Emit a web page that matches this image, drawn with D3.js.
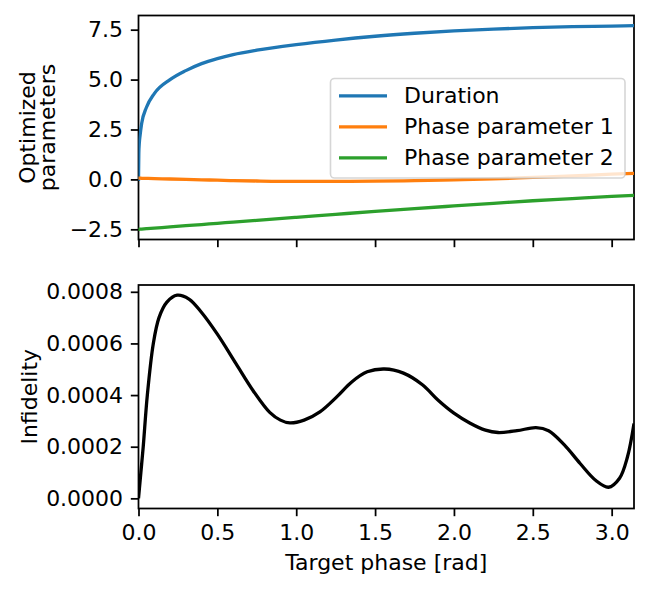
<!DOCTYPE html>
<html>
<head>
<meta charset="utf-8">
<script src="https://cdn.jsdelivr.net/npm/d3@7"></script>
<style>
  body { margin: 0; background: #fff; }
  svg { display: block; font-family: "DejaVu Sans", sans-serif; }
  .tick text { font-size: 22px; fill: #000; }
</style>
</head>
<body>
<div id="grafica"></div>
<script>
// valores
var fase = [0, 0.002, 0.005, 0.01, 0.02, 0.05, 0.1, 0.2, 0.3, 0.4, 0.5, 0.6, 0.75, 1.0, 1.25, 1.5, 1.75, 2.0, 2.25, 2.5, 2.75, 3.0, 3.1416];
var duracion = [0, 1.3, 1.8, 2.2, 2.8, 3.6, 4.3, 5.0, 5.45, 5.8, 6.05, 6.25, 6.47, 6.75, 6.98, 7.17, 7.32, 7.44, 7.53, 7.6, 7.65, 7.68, 7.7];
var faseParam1 = [0.06, 0.06, 0.06, 0.06, 0.055, 0.05, 0.04, 0.02, 0.0, -0.02, -0.04, -0.06, -0.08, -0.1, -0.1, -0.09, -0.06, -0.02, 0.03, 0.1, 0.17, 0.26, 0.3];
var faseParam2 = [-2.5, -2.499, -2.497, -2.494, -2.488, -2.47, -2.44, -2.38, -2.32, -2.26, -2.2, -2.14, -2.05, -1.9, -1.75, -1.6, -1.46, -1.33, -1.2, -1.07, -0.96, -0.85, -0.8];

var faseInf = [0, 0.015, 0.03, 0.056, 0.094, 0.13, 0.18, 0.245, 0.32, 0.4, 0.5, 0.62, 0.727, 0.832, 0.9, 0.96, 1.05, 1.15, 1.26, 1.35, 1.45, 1.56, 1.68, 1.8, 1.9, 2.0, 2.1, 2.2, 2.28, 2.4, 2.52, 2.6, 2.7, 2.8, 2.9, 2.98, 3.05, 3.1, 3.1416];
var infidelidad = [0, 0.0001, 0.0002, 0.0004, 0.0006, 0.0007, 0.00076, 0.000787, 0.000772, 0.00072, 0.000636, 0.00052, 0.000417, 0.000333, 0.000303, 0.000292, 0.000303, 0.000335, 0.000395, 0.00045, 0.00049, 0.000501, 0.000485, 0.00044, 0.00038, 0.00033, 0.000292, 0.000264, 0.000255, 0.000262, 0.000274, 0.000262, 0.000207, 0.000135, 0.000069, 0.000043, 0.000078, 0.00016, 0.00029];

var series = ["Duration", "Phase parameter 1", "Phase parameter 2"];
var colores = ["#1f77b4", "#ff7f0e", "#2ca02c"];
var ticksX = [0, 0.5, 1.0, 1.5, 2.0, 2.5, 3.0];
var ticksArriba = [-2.5, 0, 2.5, 5, 7.5];
var ticksAbajo = [0, 0.0002, 0.0004, 0.0006, 0.0008];

var ancho = 650, alto = 589;
var izq = 138.5, der = 634;
var arriba1 = 15.5, abajo1 = 239.5;
var arriba2 = 285, abajo2 = 508.5;
var tickLen = 7.7, tickPad = 7.7;

var svg = d3.select("#grafica").append("svg")
    .attr("width", ancho)
    .attr("height", alto);

var x = d3.scaleLinear().domain([0, Math.PI]).range([izq, der]);

// margen del 5% como matplotlib
function dominio(valores) {
    var min = d3.min(valores), max = d3.max(valores);
    var m = (max - min) * 0.05;
    return [min - m, max + m];
}

var yArriba = d3.scaleLinear()
    .domain(dominio(duracion.concat(faseParam1, faseParam2)))
    .range([abajo1, arriba1]);
var yAbajo = d3.scaleLinear()
    .domain(dominio(infidelidad))
    .range([abajo2, arriba2]);

var defs = svg.append("defs");
defs.append("clipPath").attr("id", "clip1").append("rect")
    .attr("x", izq).attr("y", arriba1).attr("width", der - izq).attr("height", abajo1 - arriba1);
defs.append("clipPath").attr("id", "clip2").append("rect")
    .attr("x", izq).attr("y", arriba2).attr("width", der - izq).attr("height", abajo2 - arriba2);

function ejes(y, arriba, abajo, ticksY, formatoY, conEtiquetas) {
    var ejeX = d3.axisBottom(x)
        .tickValues(ticksX)
        .tickSize(tickLen).tickSizeOuter(0).tickPadding(tickPad)
        .tickFormat(conEtiquetas ? d3.format(".1f") : "");
    var gx = svg.append("g")
        .attr("transform", "translate(0," + abajo + ")")
        .call(ejeX);
    var ejeY = d3.axisLeft(y)
        .tickValues(ticksY)
        .tickSize(tickLen).tickSizeOuter(0).tickPadding(tickPad)
        .tickFormat(formatoY);
    var gy = svg.append("g")
        .attr("transform", "translate(" + izq + ",0)")
        .call(ejeY);
    [gx, gy].forEach(function (g) {
        g.select(".domain").remove();
        g.selectAll(".tick line").attr("stroke", "#000").attr("stroke-width", 1.76);
        g.attr("font-family", null).attr("font-size", null);
    });
    svg.append("rect")
        .attr("x", izq).attr("y", arriba)
        .attr("width", der - izq).attr("height", abajo - arriba)
        .attr("fill", "none")
        .attr("stroke", "#000")
        .attr("stroke-width", 1.76);
}

var formatoArriba = function (d) { return d3.format(".1f")(d).replace("-", "\u2212"); };
ejes(yArriba, arriba1, abajo1, ticksArriba, formatoArriba, false);
ejes(yAbajo, arriba2, abajo2, ticksAbajo, d3.format(".4f"), true);

// lineas del panel de arriba
var datosArriba = [duracion, faseParam1, faseParam2];
var linea = d3.line()
    .x(function (d, i) { return x(fase[i]); })
    .y(function (d) { return yArriba(d); })
    .curve(d3.curveMonotoneX);

svg.append("g").attr("clip-path", "url(#clip1)")
    .selectAll("path")
    .data(datosArriba)
    .enter().append("path")
    .attr("d", linea)
    .attr("fill", "none")
    .attr("stroke", function (d, i) { return colores[i]; })
    .attr("stroke-width", 3.3)
    .attr("stroke-linejoin", "round")
    .attr("stroke-linecap", "square");

// panel de abajo
var lineaInf = d3.line()
    .x(function (d, i) { return x(faseInf[i]); })
    .y(function (d) { return yAbajo(d); })
    .curve(d3.curveCatmullRom.alpha(0.5));

svg.append("g").attr("clip-path", "url(#clip2)")
    .append("path")
    .datum(infidelidad)
    .attr("d", lineaInf)
    .attr("fill", "none")
    .attr("stroke", "#000")
    .attr("stroke-width", 3.3)
    .attr("stroke-linejoin", "round");

// leyenda
var leyenda = svg.append("g");
leyenda.append("rect")
    .attr("x", 330.5).attr("y", 78.5)
    .attr("width", 294.5).attr("height", 99.5)
    .attr("rx", 4).attr("ry", 4)
    .attr("fill", "#fff").attr("fill-opacity", 0.8)
    .attr("stroke", "#cccccc").attr("stroke-opacity", 0.8)
    .attr("stroke-width", 1.6);

var filas = leyenda.selectAll("g.fila")
    .data(series)
    .enter().append("g")
    .attr("class", "fila")
    .attr("transform", function (d, i) { return "translate(0," + (95.8 + i * 31) + ")"; });
filas.append("line")
    .attr("x1", 339).attr("x2", 387)
    .attr("stroke", function (d, i) { return colores[i]; })
    .attr("stroke-width", 3.3);
filas.append("text")
    .attr("x", 404)
    .attr("y", 7.5)
    .attr("font-size", 22)
    .text(function (d) { return d; });

// titulos de ejes
svg.append("text")
    .attr("transform", "rotate(-90)")
    .attr("x", -(arriba1 + abajo1) / 2)
    .attr("y", 34.5)
    .attr("text-anchor", "middle")
    .attr("font-size", 22)
    .text("Optimized");
svg.append("text")
    .attr("transform", "rotate(-90)")
    .attr("x", -(arriba1 + abajo1) / 2)
    .attr("y", 55)
    .attr("text-anchor", "middle")
    .attr("font-size", 22)
    .text("parameters");
svg.append("text")
    .attr("transform", "rotate(-90)")
    .attr("x", -(arriba2 + abajo2) / 2)
    .attr("y", 36.5)
    .attr("text-anchor", "middle")
    .attr("font-size", 22)
    .text("Infidelity");
svg.append("text")
    .attr("x", (izq + der) / 2)
    .attr("y", 569.5)
    .attr("text-anchor", "middle")
    .attr("font-size", 22)
    .text("Target phase [rad]");
</script>
</body>
</html>
